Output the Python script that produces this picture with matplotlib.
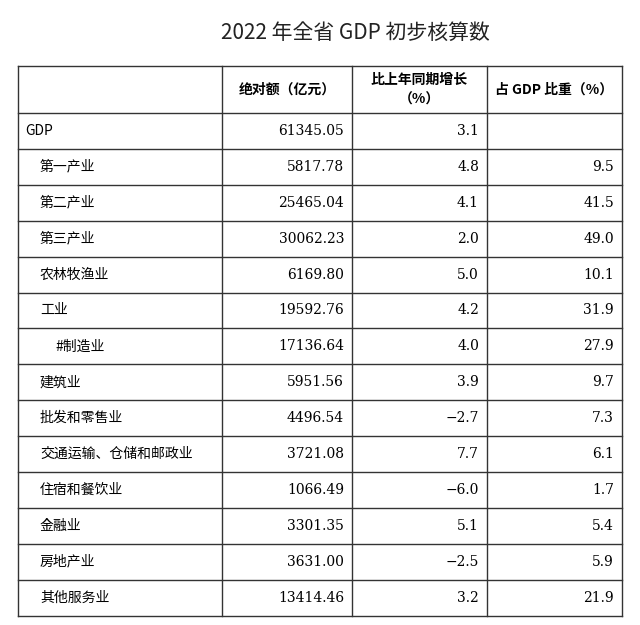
import matplotlib
matplotlib.use("Agg")
import matplotlib.pyplot as plt
from matplotlib import font_manager

cjk = [f.name for f in font_manager.fontManager.ttflist if "CJK" in f.name]
plt.rcParams["font.family"] = ["Noto Sans CJK SC", "Noto Sans CJK JP", "Noto Sans CJK TC",
                               "Noto Sans CJK KR"] + cjk + ["DejaVu Sans"]

title = "2022 年全省 GDP 初步核算数"
headers = ["绝对额（亿元）", "比上年同期增长\n（%）", "占 GDP 比重（%）"]
items = ["GDP", "第一产业", "第二产业", "第三产业", "农林牧渔业", "工业", "#制造业",
         "建筑业", "批发和零售业", "交通运输、仓储和邮政业", "住宿和餐饮业", "金融业",
         "房地产业", "其他服务业"]
indent = [0, 1, 1, 1, 1, 1, 2, 1, 1, 1, 1, 1, 1, 1]
amount = ["61345.05", "5817.78", "25465.04", "30062.23", "6169.80", "19592.76", "17136.64",
          "5951.56", "4496.54", "3721.08", "1066.49", "3301.35", "3631.00", "13414.46"]
growth = ["3.1", "4.8", "4.1", "2.0", "5.0", "4.2", "4.0", "3.9", "−2.7", "7.7", "−6.0",
          "5.1", "−2.5", "3.2"]
share = ["", "9.5", "41.5", "49.0", "10.1", "31.9", "27.9", "9.7", "7.3", "6.1", "1.7",
         "5.4", "5.9", "21.9"]

W, H = 640, 625
fig = plt.figure(figsize=(W / 100, H / 100), dpi=100)
ax = fig.add_axes([0, 0, 1, 1])
ax.set_xlim(0, W)
ax.set_ylim(H, 0)
ax.axis("off")

cols = [18, 222, 352, 487, 622]
top, head_bot = 66, 113
row_h = 35.9
bottom = head_bot + row_h * len(items)
lc = "#333333"

ax.text(355, 33, title, ha="center", va="center", fontsize=15, color="#222222")

# grid lines
ax.plot([cols[0], cols[-1]], [top, top], color=lc, lw=1)
ax.plot([cols[0], cols[-1]], [head_bot, head_bot], color=lc, lw=1)
for i in range(len(items)):
    y = head_bot + row_h * (i + 1)
    ax.plot([cols[0], cols[-1]], [y, y], color=lc, lw=1)
for x in cols:
    ax.plot([x, x], [top, bottom], color=lc, lw=1)

for j, h in enumerate(headers):
    ax.text((cols[j + 1] + cols[j + 2]) / 2, (top + head_bot) / 2, h, ha="center",
            va="center", fontsize=10, fontweight="bold", linespacing=1.5)

for i, name in enumerate(items):
    y = head_bot + row_h * (i + 0.5)
    ax.text(cols[0] + 7 + indent[i] * 15, y, name, ha="left", va="center", fontsize=10)
    for j, vals in enumerate([amount, growth, share]):
        ax.text(cols[j + 2] - 8, y, vals[i], ha="right", va="center", fontsize=10,
                family="DejaVu Serif")

fig.savefig("out.png", dpi=100, facecolor="white")
